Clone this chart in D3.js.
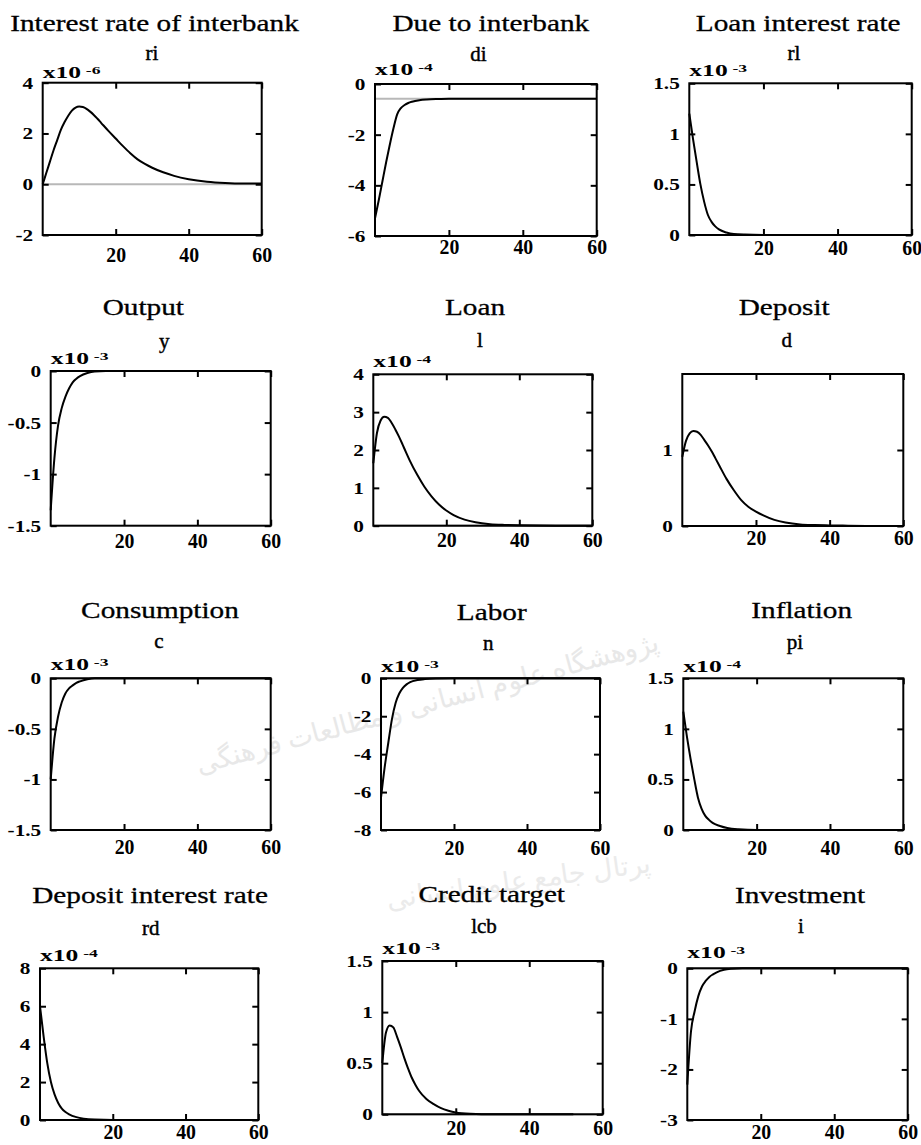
<!DOCTYPE html>
<html>
<head>
<meta charset="utf-8">
<script src="https://cdn.jsdelivr.net/npm/d3@7"></script>
<style>
  body { margin: 0; background: #fff; }
  svg { display: block; }
  text { font-family: "Liberation Serif", "Times New Roman", serif; fill: #000; }
</style>
</head>
<body>
<svg id="chart" width="921" height="1145"></svg>
<script>
// panel titles and variable names
const titles = ['Interest rate of interbank', 'Due to interbank', 'Loan interest rate',
  'Output', 'Loan', 'Deposit',
  'Consumption', 'Labor', 'Inflation',
  'Deposit interest rate', 'Credit target', 'Investment'];
const varNames = ['ri', 'di', 'rl', 'y', 'l', 'd', 'c', 'n', 'pi', 'rd', 'lcb', 'i'];
const exponents = [-6, -4, -3, -3, -4, null, -3, -3, -4, -4, -3, -3];

const xDomain = [0, 60];
const xTickValues = [20, 40, 60];
const yDomains = [[-2, 4], [-6, 0], [0, 1.5], [-1.5, 0], [0, 4], [0, 2],
  [-1.5, 0], [-8, 0], [0, 1.5], [0, 8], [0, 1.5], [-3, 0]];
const yTickValues = [[-2, 0, 2, 4], [-6, -4, -2, 0], [0, 0.5, 1, 1.5], [-1.5, -1, -0.5, 0],
  [0, 1, 2, 3, 4], [0, 1], [-1.5, -1, -0.5, 0], [-8, -6, -4, -2, 0],
  [0, 0.5, 1, 1.5], [0, 2, 4, 6, 8], [0, 0.5, 1, 1.5], [-3, -2, -1, 0]];
// grey reference (steady state) line
const steadyState = [0, -0.58, 0, 0, 0, 0, 0, 0, 0, 0, 0, 0];

// impulse responses (scaled by the exponent)
const riT = [0, 1, 2, 3, 4, 5, 6, 7, 8, 9, 10, 11, 12, 13, 14, 15, 16, 18, 20, 22, 24, 26, 28, 30, 33, 36, 40, 45, 50, 55, 60];
const riV = [0, 0.45, 0.9, 1.35, 1.75, 2.15, 2.45, 2.7, 2.9, 3.02, 3.06, 3.04, 2.97, 2.86, 2.73, 2.58, 2.42, 2.1, 1.8, 1.5, 1.22, 0.98, 0.8, 0.65, 0.47, 0.33, 0.2, 0.1, 0.05, 0.03, 0.03];
const diT = [0, 1, 2, 3, 4, 5, 6, 7, 8, 9, 10, 12, 14, 17, 20, 30, 40, 50, 60];
const diV = [-5.3, -4.6, -3.85, -3.1, -2.4, -1.75, -1.2, -0.95, -0.83, -0.75, -0.7, -0.64, -0.61, -0.59, -0.58, -0.58, -0.58, -0.58, -0.58];
const rlT = [0, 1, 2, 3, 4, 5, 6, 7, 8, 10, 12, 15, 20, 30, 40, 50, 60];
const rlV = [1.2, 0.95, 0.72, 0.5, 0.33, 0.2, 0.13, 0.085, 0.055, 0.025, 0.01, 0.004, 0.001, 0, 0, 0, 0];
const yT = [0, 1, 2, 3, 4, 5, 6, 7, 8, 10, 12, 15, 20, 30, 40, 50, 60];
const yV = [-1.35, -0.85, -0.53, -0.36, -0.25, -0.17, -0.11, -0.075, -0.05, -0.02, -0.005, 0, 0, 0, 0, 0, 0];
const lT = [0, 1, 2, 3, 4, 5, 6, 7, 8, 9, 10, 12, 14, 16, 18, 20, 22, 25, 28, 32, 36, 40, 50, 60];
const lV = [1.65, 2.45, 2.78, 2.88, 2.85, 2.72, 2.55, 2.36, 2.15, 1.93, 1.72, 1.35, 1.03, 0.77, 0.56, 0.4, 0.28, 0.16, 0.09, 0.04, 0.02, 0.01, 0, 0];
const dT = [0, 1, 2, 3, 4, 5, 6, 7, 8, 9, 10, 12, 14, 16, 18, 20, 22, 25, 28, 32, 36, 40, 45, 50];
const dV = [0.91, 1.12, 1.22, 1.25, 1.24, 1.2, 1.13, 1.06, 0.98, 0.89, 0.8, 0.62, 0.47, 0.34, 0.25, 0.19, 0.14, 0.08, 0.045, 0.02, 0.012, 0.008, 0.004, 0];
const cT = [0, 1, 2, 3, 4, 5, 6, 7, 8, 10, 12, 15, 20, 30, 40, 50, 60];
const cV = [-1.0, -0.6, -0.38, -0.24, -0.15, -0.1, -0.07, -0.045, -0.03, -0.01, 0, 0, 0, 0, 0, 0, 0];
const nT = [0, 1, 2, 3, 4, 5, 6, 7, 8, 10, 12, 15, 20, 30, 40, 50, 60];
const nV = [-6.3, -4.7, -3.4, -2.15, -1.3, -0.8, -0.5, -0.32, -0.2, -0.09, -0.04, -0.01, 0, 0, 0, 0, 0];
const piT = [0, 1, 2, 3, 4, 5, 6, 7, 8, 10, 12, 15, 20, 30, 40, 50, 60];
const piV = [1.17, 0.92, 0.7, 0.5, 0.32, 0.21, 0.14, 0.1, 0.07, 0.04, 0.02, 0.007, 0, 0, 0, 0, 0];
const rdT = [0, 1, 2, 3, 4, 5, 6, 7, 8, 10, 12, 15, 20, 30, 40, 50, 60];
const rdV = [6.0, 4.4, 3.0, 2.0, 1.35, 0.9, 0.6, 0.42, 0.3, 0.15, 0.07, 0.02, 0, 0, 0, 0, 0];
const lcbT = [0, 1, 2, 3, 4, 5, 6, 7, 8, 9, 10, 12, 14, 16, 18, 20, 24, 30, 40, 52];
const lcbV = [0.5, 0.8, 0.87, 0.85, 0.76, 0.66, 0.55, 0.45, 0.36, 0.29, 0.23, 0.15, 0.1, 0.06, 0.035, 0.018, 0.005, 0, 0, 0];
const iT = [0, 1, 2, 3, 4, 5, 6, 7, 8, 10, 12, 15, 20, 30, 40, 50, 60];
const iV = [-2.3, -1.25, -0.85, -0.55, -0.36, -0.25, -0.17, -0.12, -0.08, -0.03, -0.01, 0, 0, 0, 0, 0, 0];

const seriesT = [riT, diT, rlT, yT, lT, dT, cT, nT, piT, rdT, lcbT, iT];
const seriesV = [riV, diV, rlV, yV, lV, dV, cV, nV, piV, rdV, lcbV, iV];

// layout: box x0, y0, x1, y1, title x/y, subtitle x/y, exponent baseline, x label baseline offset
const layout = [
  [42.7, 82.7, 261.7, 235, 154.5, 31, 152, 60, 78.3, 27],
  [375, 84, 596.7, 236, 490.8, 31, 478.3, 61, 75, 18],
  [689.3, 83.3, 911.7, 235, 798.2, 31, 794, 60, 76, 20],
  [50.7, 371, 270.7, 525.7, 143.3, 315, 164.2, 348, 364, 22.5],
  [373.3, 374.3, 592.3, 525.7, 475, 315, 480, 346.7, 367.3, 21],
  [682.3, 374, 903.3, 526, 784.2, 315, 786.7, 346.7, 0, 19],
  [50.7, 678.3, 270.7, 830, 160, 618.3, 159, 648.3, 670, 24],
  [381, 678.3, 600, 830, 491.7, 620, 488.3, 650, 671.7, 25],
  [683.3, 678.3, 903.3, 830, 801.7, 618.3, 795, 649.3, 671.7, 25],
  [40, 968.3, 258.3, 1120, 150, 903.3, 150.8, 935, 961, 19],
  [382.3, 961, 602.7, 1114.3, 491.7, 901.7, 484, 933.3, 954, 21],
  [687.3, 968.3, 907.7, 1120, 800, 903.3, 800.8, 933.3, 958.3, 19],
];

const svg = d3.select('#chart');

// the source picture is stretched sideways; mimic it by scaling text about its anchor
function stretchText(sel, sx) {
  sel.each(function () {
    const t = d3.select(this);
    const x = +t.attr('x') || 0;
    const y = +t.attr('y') || 0;
    t.attr('x', 0).attr('y', 0)
      .attr('transform', `translate(${x},${y}) scale(${sx},1)`);
  });
}

// faint watermark text
const wm = svg.append('g')
  .style('font-family', '"DejaVu Sans", sans-serif');
wm.append('text').attr('x', 430).attr('y', 712)
  .attr('transform', 'rotate(-15 430 712)')
  .attr('text-anchor', 'middle').attr('font-size', 27)
  .style('fill', '#e8e8e8')
  .text('پژوهشگاه علوم انسانی و مطالعات فرهنگی');
wm.append('text').attr('x', 520).attr('y', 890)
  .attr('transform', 'rotate(-8 520 890)')
  .attr('text-anchor', 'middle').attr('font-size', 27)
  .style('fill', '#ebebeb')
  .text('پرتال جامع علوم انسانی');

layout.forEach((lay, i) => {
  const [x0, y0, x1, y1, tx, ty, sx, sy, ey, xlab] = lay;
  const g = svg.append('g');
  const x = d3.scaleLinear().domain(xDomain).range([x0, x1]);
  const y = d3.scaleLinear().domain(yDomains[i]).range([y1, y0]);

  g.append('line')
    .attr('x1', x0).attr('x2', x1)
    .attr('y1', y(steadyState[i])).attr('y2', y(steadyState[i]))
    .attr('stroke', '#b8b8b8')
    .attr('stroke-width', 2);

  const pts = seriesT[i].map((t, k) => [t, seriesV[i][k]]);
  const line = d3.line()
    .curve(d3.curveMonotoneX)
    .x(d => x(d[0]))
    .y(d => y(d[1]));
  g.append('path')
    .datum(pts)
    .attr('d', line)
    .attr('fill', 'none')
    .attr('stroke', '#000')
    .attr('stroke-width', 2);

  // left axis with labels, ticks pointing inwards
  const left = g.append('g')
    .attr('transform', `translate(${x0},0)`)
    .call(d3.axisLeft(y).tickValues(yTickValues[i]).tickSize(-6).tickSizeOuter(0)
      .tickPadding(9.5).tickFormat(d => String(d)));
  left.select('.domain').remove();
  left.attr('font-size', 17).attr('font-family', null).attr('font-weight', 'bold');
  left.selectAll('line').attr('stroke-width', 2);
  stretchText(left.selectAll('text'), 1.25);

  const right = g.append('g')
    .attr('transform', `translate(${x1},0)`)
    .call(d3.axisRight(y).tickValues(yTickValues[i]).tickSize(-6).tickSizeOuter(0).tickFormat(''));
  right.select('.domain').remove();
  right.selectAll('line').attr('stroke-width', 2);

  const bottom = g.append('g')
    .attr('transform', `translate(0,${y1})`)
    .call(d3.axisBottom(x).tickValues(xTickValues).tickSize(-6).tickSizeOuter(0)
      .tickPadding(xlab - 15.6));
  bottom.select('.domain').remove();
  bottom.attr('font-size', 22).attr('font-family', null).attr('font-weight', 'bold');
  bottom.selectAll('line').attr('stroke-width', 2);
  stretchText(bottom.selectAll('text'), 0.9);

  const top = g.append('g')
    .attr('transform', `translate(0,${y0})`)
    .call(d3.axisTop(x).tickValues(xTickValues).tickSize(-6).tickSizeOuter(0).tickFormat(''));
  top.select('.domain').remove();
  top.selectAll('line').attr('stroke-width', 2);

  g.append('rect')
    .attr('x', x0).attr('y', y0)
    .attr('width', x1 - x0).attr('height', y1 - y0)
    .attr('fill', 'none')
    .attr('stroke', '#000')
    .attr('stroke-width', 2);

  const title = g.append('text')
    .attr('x', tx).attr('y', ty)
    .attr('text-anchor', 'middle')
    .attr('font-size', 24)
    .attr('stroke', '#000')
    .attr('stroke-width', 0.3)
    .text(titles[i]);
  stretchText(title, 1.22);

  g.append('text')
    .attr('x', sx).attr('y', sy)
    .attr('text-anchor', 'middle')
    .attr('font-size', 21)
    .attr('stroke', '#000')
    .attr('stroke-width', 0.45)
    .text(varNames[i]);

  if (exponents[i] !== null) {
    const ex = g.append('text')
      .attr('x', x0).attr('y', ey)
      .attr('font-size', 16)
      .attr('font-weight', 'bold');
    ex.append('tspan').text('x10');
    ex.append('tspan')
      .attr('dx', 3).attr('dy', -4)
      .attr('font-size', 11)
      .text(String(exponents[i]));
    stretchText(ex, 1.6);
  }
});
</script>
</body>
</html>
